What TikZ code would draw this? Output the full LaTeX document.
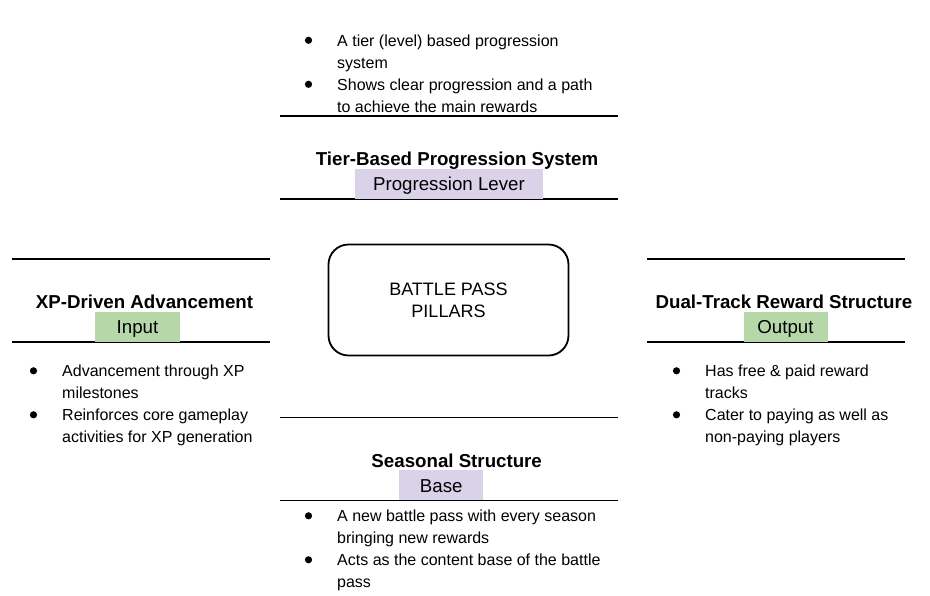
\documentclass[tikz,border=0pt]{standalone}
\usepackage{fontspec}
\setmainfont{Liberation Sans}
\definecolor{lav}{HTML}{D9D2E9}
\definecolor{sage}{HTML}{B6D7A8}
\tikzset{
  rule/.style={line width=1.2pt, black},
  ttl/.style={font=\fontsize{18.7}{22}\selectfont\bfseries, anchor=base, inner sep=0pt},
  lbl/.style={font=\fontsize{18.7}{22}\selectfont, anchor=south, inner sep=0pt, minimum height=30pt, text height=13.4pt, text depth=0pt},
  btxt/.style={font=\fontsize{16}{22}\selectfont, anchor=base west, inner sep=0pt},
  dot/.style={fill=black},
  pillar/.style={draw, line width=1.8pt, rounded corners=20pt, minimum width=240pt, minimum height=111pt, align=center, font=\fontsize{18}{22}\selectfont}
}
\newcommand{\bitem}[5]{% name, x, y(baseline), line1, line2
  \fill[dot] (#2-28.5,#3-5.7) circle (3.6pt);
  \node[btxt] (#1a) at (#2,#3) {#4};
  \node[btxt] (#1b) at (#2,#3+22) {#5};
}
\begin{document}
\begin{tikzpicture}[x=1pt,y=-1pt]
\useasboundingbox (0,0) rectangle (930,595);
% ---------- top ----------
\bitem{ta}{337}{46}{A tier (level) based progression}{system}
\bitem{tb}{337}{90}{Shows clear progression and a path}{to achieve the main rewards}
\draw[rule] (280,116) -- (618,116);
\draw[rule] (280,199) -- (618,199);
\node[lbl, fill=lav, minimum width=188pt] (tlbl) at (449,199) {Progression Lever};
\node[ttl] (ttl) at (457,165) {Tier-Based Progression System};
% ---------- left ----------
\draw[rule] (12,259) -- (270,259);
\draw[rule] (12,342) -- (270,342);
\node[lbl, fill=sage, minimum width=85pt] (llbl) at (137.5,342) {Input};
\node[ttl] (lttl) at (144.5,308.5) {XP-Driven Advancement};
\bitem{la}{62}{376.5}{Advancement through XP}{milestones}
\bitem{lb}{62}{420.5}{Reinforces core gameplay}{activities for XP generation}
% ---------- right ----------
\draw[rule] (647,259) -- (905,259);
\draw[rule] (647,342) -- (905,342);
\node[lbl, fill=sage, minimum width=84pt] (rlbl) at (785.5,342) {Output};
\node[ttl] (rttl) at (784,308.5) {Dual-Track Reward Structure};
\bitem{ra}{705}{376.5}{Has free \& paid reward}{tracks}
\bitem{rb}{705}{420.5}{Cater to paying as well as}{non-paying players}
% ---------- bottom ----------
\draw[rule] (280,417.5) -- (618,417.5);
\draw[rule] (280,500.5) -- (618,500.5);
\node[lbl, fill=lav, minimum width=84pt] (blbl) at (441.3,500.5) {Base};
\node[ttl] (bttl) at (456.7,467) {Seasonal Structure};
\bitem{ba}{337}{521.5}{A new battle pass with every season}{bringing new rewards}
\bitem{bb}{337}{565.5}{Acts as the content base of the battle}{pass}
% ---------- center ----------
\node[pillar] (core) at (448.5,300) {BATTLE PASS\\PILLARS};
\end{tikzpicture}
\end{document}
